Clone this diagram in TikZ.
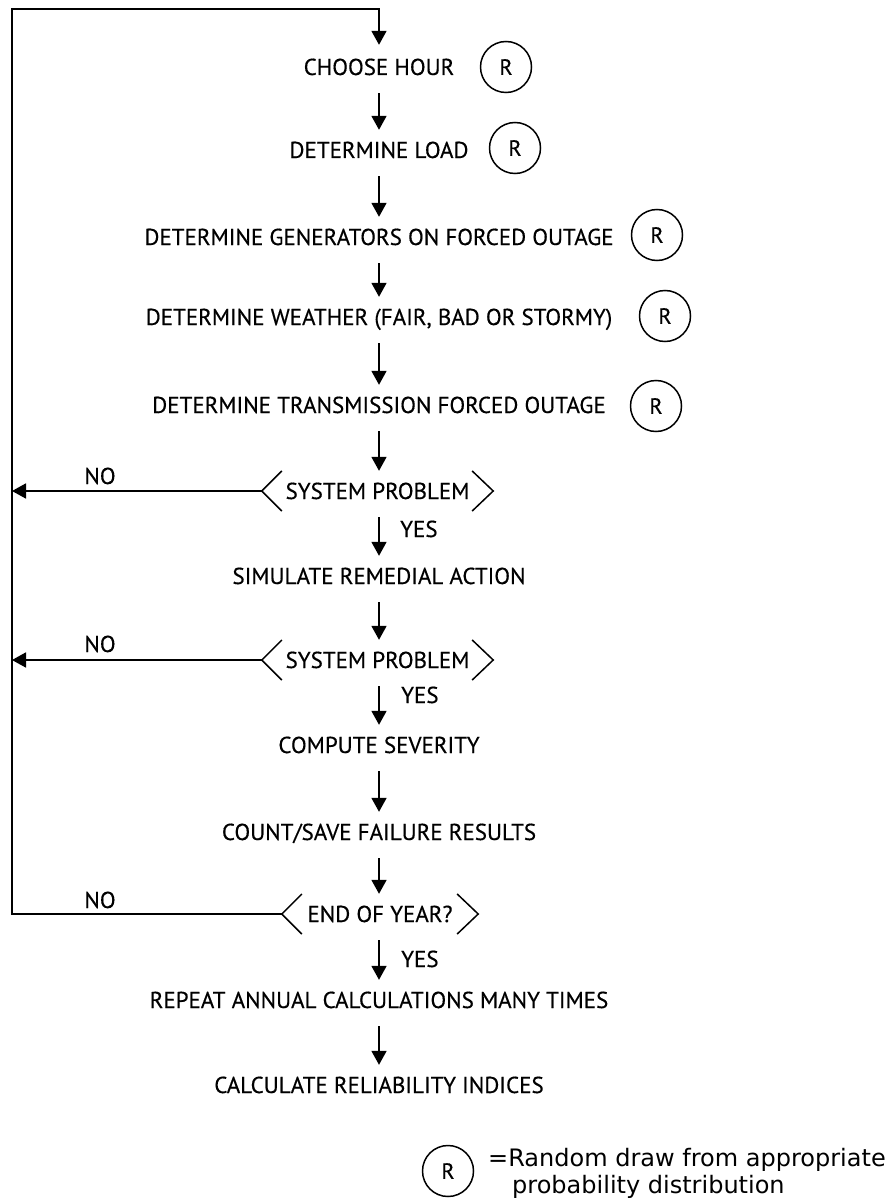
\documentclass[tikz,border=0pt]{standalone}
\usepackage{fontspec}
\setmainfont{PT Sans}[FakeBold=0.4]
\newfontfamily\legendfont{DejaVu Sans}
\usetikzlibrary{arrows.meta}
\begin{document}
\begin{tikzpicture}[x=1pt,y=-1pt,
  txt/.style={anchor=base, inner sep=0pt, text height=16pt, text depth=0pt,
    font=\fontsize{23}{27}\selectfont},
  dec/.style={txt, minimum width=#1},
  rdraw/.style={circle, draw, line width=1.5pt, minimum size=51pt, inner sep=0pt,
    font=\fontsize{22}{26}\selectfont},
  lbl/.style={anchor=base, inner sep=0pt, font=\fontsize{23}{27}\selectfont},
  arr/.style={-{Triangle[length=14pt,width=15pt]}, line width=1.8pt,
    shorten <=18pt, shorten >=12pt},
  loop/.style={-{Triangle[length=14pt,width=15pt]}, line width=1.8pt},
  brk/.style={line width=1.5pt},
  legend/.style={anchor=base west, inner sep=0pt, font=\legendfont\fontsize{24}{28}\selectfont}]
\useasboundingbox (0,0) rectangle (888,1198);

% main column
\node[txt] (choose) at (379,75) {CHOOSE HOUR};
\node[txt] (load) at (379,158) {DETERMINE LOAD};
\node[txt] (gen) at (379,245) {DETERMINE GENERATORS ON FORCED OUTAGE};
\node[txt] (weather) at (379,325) {DETERMINE WEATHER (FAIR, BAD OR STORMY)};
\node[txt] (trans) at (379,413) {DETERMINE TRANSMISSION FORCED OUTAGE};
\node[dec=231pt] (sp1) at (377.5,499) {SYSTEM PROBLEM};
\node[txt] (sim) at (379,584) {SIMULATE REMEDIAL ACTION};
\node[dec=231pt] (sp2) at (377.5,668) {SYSTEM PROBLEM};
\node[txt] (sev) at (379,753) {COMPUTE SEVERITY};
\node[txt] (count) at (379,840) {COUNT/SAVE FAILURE RESULTS};
\node[dec=196pt] (eoy) at (380,922) {END OF YEAR?};
\node[txt] (rep) at (379,1008) {REPEAT ANNUAL CALCULATIONS MANY TIMES};
\node[txt] (calc) at (379,1093) {CALCULATE RELIABILITY INDICES};

% random-draw markers
\node[rdraw] (r1) at (506,67) {R};
\node[rdraw] (r2) at (515,148) {R};
\node[rdraw] (r3) at (657,235) {R};
\node[rdraw] (r4) at (665,316) {R};
\node[rdraw] (r5) at (656,406) {R};

% decision brackets
\foreach \d in {sp1,sp2,eoy}{
  \draw[brk] ([shift={(20,-20)}]\d.west) -- (\d.west) -- ++(20,20);
  \draw[brk] ([shift={(-21,-20)}]\d.east) -- (\d.east) -- ++(-21,20);
}

% vertical flow arrows
\draw[arr] (choose.south) -- (load.north);
\draw[arr] (load.south) -- (gen.north);
\draw[arr] (gen.south) -- (weather.north);
\draw[arr] (weather.south) -- (trans.north);
\draw[arr] (trans.south) -- ([xshift=1.5pt]sp1.north);
\draw[arr] ([xshift=1.5pt]sp1.south) -- (sim.north);
\draw[arr] (sim.south) -- ([xshift=1.5pt]sp2.north);
\draw[arr] ([xshift=1.5pt]sp2.south) -- (sev.north);
\draw[arr] (sev.south) -- (count.north);
\draw[arr] (count.south) -- ([xshift=-1pt]eoy.north);
\draw[arr] ([xshift=-1pt]eoy.south) -- (rep.north);
\draw[arr] (rep.south) -- (calc.north);

% YES labels
\node[lbl, anchor=base west] (yes1) at (400,537) {YES};
\node[lbl, anchor=base west] (yes2) at (401,703) {YES};
\node[lbl, anchor=base west] (yes3) at (401,967) {YES};

% feedback loop
\coordinate (Lx) at (12,9);
\draw[loop, shorten >=14pt] (eoy.west) -- (eoy.west -| Lx) -- (Lx) -- (Lx -| choose) -- (choose.north);
\draw[loop] (sp1.west) -- (sp1.west -| Lx);
\draw[loop] (sp2.west) -- (sp2.west -| Lx);

% NO labels
\node[lbl] (no1) at (100,484) {NO};
\node[lbl] (no2) at (100,652) {NO};
\node[lbl] (no3) at (100,908) {NO};

% legend
\node[rdraw] (rl) at (448,1171) {R};
\node[legend] (leg1) at (488,1166) {=Random draw from appropriate};
\node[legend] (leg2) at (512,1193) {probability distribution};
\end{tikzpicture}
\end{document}
